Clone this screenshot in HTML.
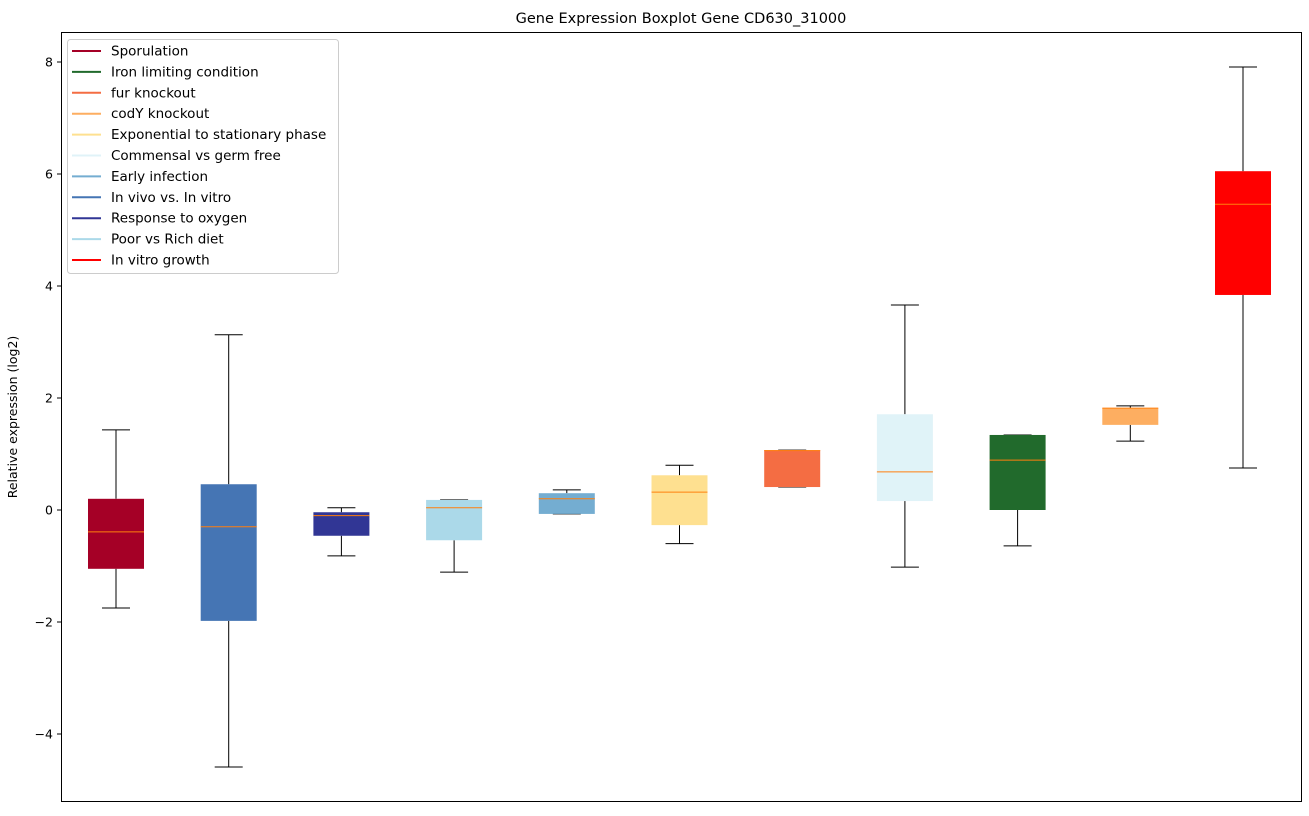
<!DOCTYPE html>
<html><head><meta charset="utf-8"><style>
body{margin:0;background:#fff;font-family:"DejaVu Sans","Liberation Sans",sans-serif;}
</style></head><body>
<svg id="chart" width="1309" height="812" xmlns="http://www.w3.org/2000/svg" font-family="DejaVu Sans, Liberation Sans, sans-serif">
<text x="681" y="23" text-anchor="middle" font-size="14.5">Gene Expression Boxplot Gene CD630_31000</text>
<text transform="translate(17,417) rotate(-90)" text-anchor="middle" font-size="12.5">Relative expression (log2)</text>
<g id="plot"></g>
<rect x="61.5" y="32.5" width="1240" height="769" fill="none" stroke="#000" stroke-width="1"/>
<g id="legend"></g>
</svg>
<script>
const categories=["Sporulation","In vivo vs. In vitro","Response to oxygen","Poor vs Rich diet","Early infection","Exponential to stationary phase","fur knockout","Commensal vs germ free","Iron limiting condition","codY knockout","In vitro growth"];
const colors=["#a50026","#4575b4","#313695","#abd9e9","#74add1","#fee090","#f46d43","#e0f3f8","#216a2c","#fdae61","#ff0000"];
const whiskerLow=[-1.75,-4.59,-0.82,-1.11,-0.07,-0.6,0.41,-1.02,-0.64,1.23,0.75];
const q1=[-1.05,-1.98,-0.46,-0.54,-0.07,-0.27,0.41,0.16,0,1.52,3.84];
const medians=[-0.39,-0.3,-0.1,0.04,0.2,0.32,1.06,0.68,0.89,1.82,5.46];
const q3=[0.2,0.46,-0.04,0.18,0.3,0.62,1.07,1.71,1.34,1.82,6.05];
const whiskerHigh=[1.43,3.13,0.04,0.18,0.36,0.8,1.07,3.66,1.34,1.86,7.91];
const yTicks=[-4,-2,0,2,4,6,8];
const yTickLabels=["\u22124","\u22122","0","2","4","6","8"];
const legendLabels=["Sporulation","Iron limiting condition","fur knockout","codY knockout","Exponential to stationary phase","Commensal vs germ free","Early infection","In vivo vs. In vitro","Response to oxygen","Poor vs Rich diet","In vitro growth"];
const legendColors=["#a50026","#216a2c","#f46d43","#fdae61","#fee090","#e0f3f8","#74add1","#4575b4","#313695","#abd9e9","#ff0000"];

const NS="http://www.w3.org/2000/svg";
const y=v=>510-v*56;
const x=i=>116+i*112.7;
function mk(t,a,p){const e=document.createElementNS(NS,t);for(const k in a)e.setAttribute(k,a[k]);p.appendChild(e);return e;}
const plot=document.getElementById('plot');
const svg=document.getElementById('chart');
yTicks.forEach((v,i)=>{
  const t=mk('line',{x1:57,x2:61,y1:y(v),y2:y(v),stroke:'#000'},svg);
  
  
  const l=mk('text',{x:53,y:y(v)+4.5,'text-anchor':'end','font-size':'12.5'},svg);
  
  
  l.textContent=yTickLabels[i];
});
categories.forEach((c,i)=>{
  const cx=x(i),g=mk('g',{},plot);
  
  
  mk('line',{x1:cx,x2:cx,y1:y(whiskerHigh[i]),y2:y(q3[i]),stroke:'#000'},g);
  mk('line',{x1:cx,x2:cx,y1:y(q1[i]),y2:y(whiskerLow[i]),stroke:'#000'},g);
  mk('line',{x1:cx-14,x2:cx+14,y1:y(whiskerHigh[i]),y2:y(whiskerHigh[i]),stroke:'#000'},g);
  mk('line',{x1:cx-14,x2:cx+14,y1:y(whiskerLow[i]),y2:y(whiskerLow[i]),stroke:'#000'},g);
  mk('rect',{x:cx-28,y:y(q3[i]),width:56,height:Math.max(1,y(q1[i])-y(q3[i])),fill:colors[i]},g);
  mk('line',{x1:cx-28,x2:cx+28,y1:y(medians[i]),y2:y(medians[i]),stroke:'#ff7f0e','stroke-width':1},g);
});
const lg=document.getElementById('legend');
mk('rect',{x:67.5,y:39.5,width:271,height:234,rx:3,fill:'#fff','fill-opacity':0.8,stroke:'#ccc'},lg);
legendLabels.forEach((l,i)=>{
  const yy=51+i*20.9;
  const e=mk('g',{},lg);
  
  
  mk('line',{x1:72,x2:101,y1:yy,y2:yy,stroke:legendColors[i],'stroke-width':2},e);
  const t=mk('text',{x:111,y:yy+4.5,'font-size':'13.5'},e);
  t.textContent=l;
});
</script>
</body></html>
